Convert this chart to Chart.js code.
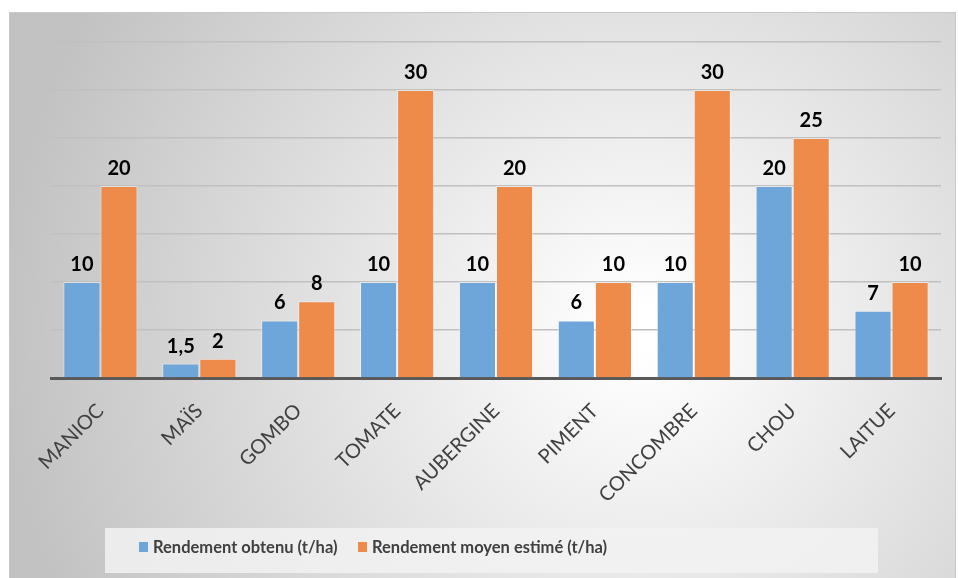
<!DOCTYPE html>
<html>
<head>
<meta charset="utf-8">
<script src="https://cdn.jsdelivr.net/npm/chart.js@4"></script>
<style>
  html, body { margin: 0; padding: 0; background: #fff; }
  #wrap { width: 958px; height: 578px; }
</style>
</head>
<body>
<div id="wrap"><canvas id="barChart"></canvas></div>
<script>
// data
var cultures = ["MANIOC", "MAÏS", "GOMBO", "TOMATE", "AUBERGINE", "PIMENT", "CONCOMBRE", "CHOU", "LAITUE"];
var obtenu = [10, 1.5, 6, 10, 10, 6, 10, 20, 7];
var estime = [20, 2, 8, 30, 20, 10, 30, 25, 10];
var seriesNames = ["Rendement obtenu (t/ha)", "Rendement moyen estimé (t/ha)"];
var yMax = 35, yStep = 5;

var FONT = "Lato, 'Open Sans', sans-serif";
var BLUE = '#6fa6da', ORANGE = '#ee8b4b';

// frame + radial grey background
var bgPlugin = {
  id: 'bg',
  beforeDraw: function(chart) {
    var c = chart.ctx;
    c.save();
    var g = c.createRadialGradient(640, 330, 20, 640, 330, 640);
    g.addColorStop(0, '#ffffff');
    g.addColorStop(1, '#c2c2c2');
    c.fillStyle = g;
    c.fillRect(9, 12, 947, 566);
    c.strokeStyle = '#c8c8c8';
    c.lineWidth = 1;
    c.strokeRect(9.5, 12.5, 946, 566);
    c.restore();
  }
};

// value labels above the bars + legend box
var labelPlugin = {
  id: 'labels',
  afterDatasetsDraw: function(chart) {
    var c = chart.ctx;
    c.save();
    c.font = "bold 20px " + FONT;
    c.fillStyle = '#000';
    c.textAlign = 'center';
    c.textBaseline = 'alphabetic';
    chart.data.datasets.forEach(function(ds, i) {
      chart.getDatasetMeta(i).data.forEach(function(bar, j) {
        c.fillText(String(ds.data[j]).replace('.', ','), bar.x, bar.y - 11);
      });
    });
    c.restore();
  },
  afterDraw: function(chart) {
    var c = chart.ctx;
    c.save();
    c.fillStyle = 'rgba(242,242,242,0.85)';
    c.fillRect(105, 528, 773, 45);
    c.font = "bold 16.5px " + FONT;
    c.textBaseline = 'middle';
    c.textAlign = 'left';
    var xs = [139, 358];
    chart.data.datasets.forEach(function(ds, i) {
      c.fillStyle = ds.backgroundColor;
      c.fillRect(xs[i], 542, 9, 10);
      c.fillStyle = '#404040';
      c.fillText(ds.label, xs[i] + 14, 548);
    });
    c.restore();
  }
};

new Chart(document.getElementById('barChart'), {
  type: 'bar',
  data: {
    labels: cultures,
    datasets: [
      { label: seriesNames[0], data: obtenu, backgroundColor: BLUE, borderColor: 'rgba(255,255,255,0.45)', borderWidth: 1 },
      { label: seriesNames[1], data: estime, backgroundColor: ORANGE, borderColor: 'rgba(255,255,255,0.45)', borderWidth: 1 }
    ]
  },
  options: {
    responsive: true,
    maintainAspectRatio: false,
    animation: false,
    layout: { padding: { left: 51, right: 17, top: 42, bottom: 50 } },
    datasets: { bar: { categoryPercentage: 0.75, barPercentage: 1.0 } },
    plugins: { legend: { display: false }, tooltip: { enabled: false } },
    scales: {
      x: {
        grid: { display: false, drawTicks: false },
        border: { display: true, color: '#595959', width: 3 },
        ticks: {
          color: '#404040',
          font: { family: FONT, size: 20 },
          minRotation: 45, maxRotation: 45,
          padding: 21
        },
        afterFit: function(s) { s.height = 150; }
      },
      y: {
        min: 0, max: yMax,
        ticks: { display: false, stepSize: yStep },
        grid: { color: '#c0c0c0', lineWidth: 1.5, drawTicks: false },
        border: { display: false },
        afterFit: function(s) { s.width = 0; }
      }
    }
  },
  plugins: [bgPlugin, labelPlugin]
});
</script>
</body>
</html>
